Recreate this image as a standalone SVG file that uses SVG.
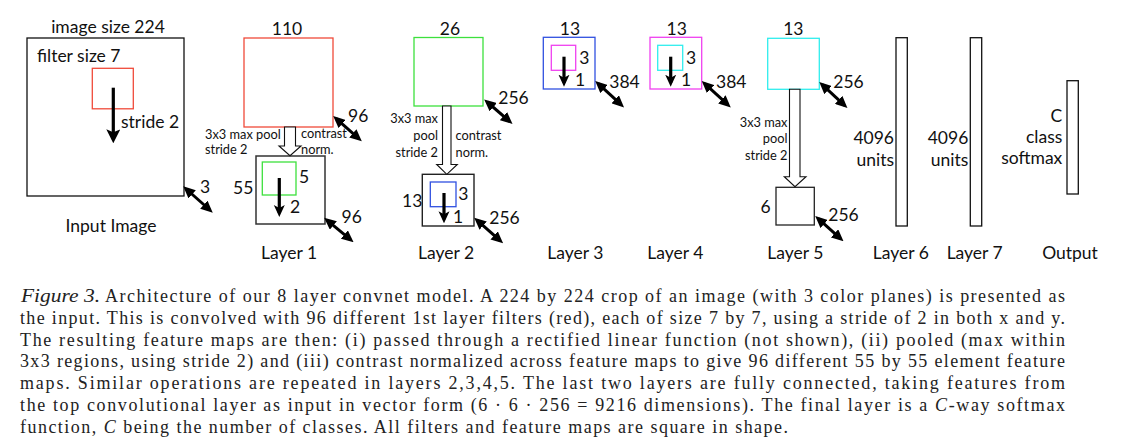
<svg xmlns="http://www.w3.org/2000/svg" width="1121" height="448" viewBox="0 0 1121 448">
<defs>
<marker id="dh" markerUnits="userSpaceOnUse" markerWidth="12" markerHeight="11" refX="8" refY="5.5" orient="auto-start-reverse" viewBox="0 0 12 11">
<path d="M0,0 L12,5.5 L0,11 z" fill="#000"/>
</marker>
<marker id="bh" markerUnits="userSpaceOnUse" markerWidth="14" markerHeight="14" refX="10" refY="7" orient="auto" viewBox="0 0 14 14">
<path d="M0,0 L14,7 L0,14 L3,7 z" fill="#000"/>
</marker>
<marker id="sh" markerUnits="userSpaceOnUse" markerWidth="12" markerHeight="12" refX="8" refY="6" orient="auto" viewBox="0 0 12 12">
<path d="M0,0.5 L12,6 L0,11.5 L3,6 z" fill="#000"/>
</marker>
</defs>
<style>
text{font-family:Lato,"Liberation Sans",sans-serif;fill:#111}
.l{font-size:17.5px}
.s{font-size:12.8px}
.m{text-anchor:middle}
.e{text-anchor:end}
.cap{font-family:"Liberation Serif","DejaVu Serif",serif;font-size:18px;fill:#222}
.it{font-style:italic}
.box{fill:#fff;stroke:#111;stroke-width:1.3}
.map{fill:none;stroke-width:1.3}
.dbl{stroke:#000;stroke-width:3;marker-start:url(#dh);marker-end:url(#dh)}
.dn{stroke:#000;stroke-width:3.2}
.hol{fill:#fff;stroke:#111;stroke-width:1.1}
</style>
<rect width="1121" height="448" fill="#fff"/>

<g id="input">
<rect class="box" x="27" y="38" width="157" height="158"/>
<text class="l m" x="108" y="33">image size 224</text>
<text class="l" x="37" y="62">filter size 7</text>
<rect class="map" x="92.3" y="68.3" width="41" height="40.5" stroke="#f04a3a"/>
<text class="l" x="121" y="127.5">stride 2</text>
<text class="l" x="200" y="192.5">3</text>
<text class="l m" x="111" y="232">Input Image</text>
</g>

<g id="layer1">
<rect class="map" x="244" y="38" width="89" height="89" stroke="#f04a3a"/>
<text class="l m" x="287" y="35">110</text>
<text class="s" x="205" y="138.5">3x3 max pool</text>
<text class="s" x="205" y="154">stride 2</text>
<text class="s" x="301" y="137.5">contrast</text>
<text class="s" x="301" y="153.5">norm.</text>
<rect x="256" y="156" width="69" height="68" fill="#fff" stroke="#333" stroke-width="1.5"/>
<rect class="map" x="262.3" y="162" width="33.7" height="33" stroke="#3de03d"/>
<text class="l" x="233" y="194">55</text>
<text class="l" x="299" y="183">5</text>
<text class="l" x="290" y="212.5">2</text>
<text class="l" x="348" y="121.5">96</text>
<text class="l" x="341.5" y="223">96</text>
<text class="l m" x="289" y="258.5">Layer 1</text>
</g>

<g id="layer2">
<rect class="map" x="414" y="37.5" width="69" height="68.5" stroke="#3de03d"/>
<text class="l m" x="450" y="35">26</text>
<text class="s e" x="438" y="123">3x3 max</text>
<text class="s e" x="438" y="140">pool</text>
<text class="s e" x="438" y="156.5">stride 2</text>
<text class="s" x="455.5" y="140">contrast</text>
<text class="s" x="455.5" y="156.5">norm.</text>
<rect x="422.3" y="174.3" width="51.7" height="51.7" fill="#fff" stroke="#222" stroke-width="1.4"/>
<rect class="map" x="430.3" y="182" width="25.7" height="24.7" stroke="#3050e0"/>
<text class="l" x="402" y="206.5">13</text>
<text class="l" x="458.3" y="200">3</text>
<text class="l" x="453" y="222.5">1</text>
<text class="l" x="498.3" y="104">256</text>
<text class="l" x="489.3" y="224">256</text>
<text class="l m" x="446" y="258.5">Layer 2</text>
</g>

<g id="layer3">
<rect class="map" x="543.3" y="37.3" width="51.7" height="51.7" stroke="#3050e0"/>
<rect class="map" x="551.3" y="45.3" width="24.4" height="25" stroke="#f040f0"/>
<text class="l m" x="570" y="35">13</text>
<text class="l" x="579.3" y="64">3</text>
<text class="l" x="575" y="86">1</text>
<text class="l" x="609.3" y="88">384</text>
<text class="l m" x="575.3" y="258.5">Layer 3</text>
</g>

<g id="layer4">
<rect class="map" x="650" y="37.3" width="51.7" height="51.7" stroke="#f040f0"/>
<rect class="map" x="657.7" y="45.3" width="25" height="25" stroke="#30eeee"/>
<text class="l m" x="676.7" y="35">13</text>
<text class="l" x="686" y="64">3</text>
<text class="l" x="681" y="86">1</text>
<text class="l" x="716" y="88">384</text>
<text class="l m" x="675.3" y="258.5">Layer 4</text>
</g>

<g id="layer5">
<rect class="map" x="767.7" y="38.3" width="51.6" height="51" stroke="#30eeee"/>
<text class="l m" x="793.3" y="35">13</text>
<text class="s e" x="787.5" y="127">3x3 max</text>
<text class="s e" x="787.5" y="143">pool</text>
<text class="s e" x="787.5" y="159.5">stride 2</text>
<rect x="776" y="187.3" width="38.3" height="37.7" fill="#fff" stroke="#222" stroke-width="1.3"/>
<text class="l" x="760.5" y="212.5">6</text>
<text class="l" x="833.3" y="88">256</text>
<text class="l" x="828.3" y="221">256</text>
<text class="l m" x="795.3" y="258.5">Layer 5</text>
</g>

<g id="layer6">
<rect class="box" x="896" y="37.7" width="11.3" height="188.3"/>
<text class="l e" x="894" y="144">4096</text>
<text class="l e" x="894" y="165.5">units</text>
<text class="l m" x="900.8" y="258.5">Layer 6</text>
</g>

<g id="layer7">
<rect class="box" x="970.3" y="37.7" width="11.4" height="188.3"/>
<text class="l e" x="968.3" y="144">4096</text>
<text class="l e" x="968.3" y="165.5">units</text>
<text class="l m" x="974.7" y="258.5">Layer 7</text>
</g>

<g id="output">
<rect class="box" x="1067" y="80.7" width="11.3" height="113.3"/>
<text class="l e" x="1062.3" y="121.5">C</text>
<text class="l e" x="1062.3" y="142.5">class</text>
<text class="l e" x="1062.3" y="164">softmax</text>
<text class="l m" x="1070" y="259">Output</text>
</g>

<g id="connectors">
<line class="dn" x1="113.3" y1="87.7" x2="113.3" y2="139.3" marker-end="url(#bh)"/>
<line class="dn" x1="279.3" y1="178" x2="279.3" y2="213" marker-end="url(#sh)"/>
<line class="dn" x1="444" y1="193" x2="444" y2="219.3" marker-end="url(#sh)"/>
<line class="dn" x1="564" y1="56.7" x2="564" y2="82.7" marker-end="url(#sh)"/>
<line class="dn" x1="670.7" y1="56.7" x2="670.7" y2="82.7" marker-end="url(#sh)"/>
<polygon class="hol" points="284.5,127 295.5,127 295.5,146 301,146 290,155.7 279,146 284.5,146"/>
<polygon class="hol" points="442.5,106 451,106 451,164.5 457.3,164.5 446.8,174.3 436.7,164.5 442.5,164.5"/>
<polygon class="hol" points="789.5,89.3 800,89.3 800,176.7 806,176.7 795,186.7 784.3,176.7 789.5,176.7"/>
<line class="dbl" x1="186.2" y1="189" x2="209.8" y2="210"/>
<line class="dbl" x1="336.2" y1="118.7" x2="358.8" y2="138.7"/>
<line class="dbl" x1="327.2" y1="220.3" x2="350.5" y2="239.7"/>
<line class="dbl" x1="487.2" y1="102" x2="509.5" y2="121.3"/>
<line class="dbl" x1="477.2" y1="220.3" x2="500.1" y2="240.7"/>
<line class="dbl" x1="598.2" y1="83.7" x2="621.1" y2="104.7"/>
<line class="dbl" x1="704.7" y1="83.7" x2="727.8" y2="104.7"/>
<line class="dbl" x1="822.2" y1="84.7" x2="844.5" y2="105.3"/>
<line class="dbl" x1="818.2" y1="218.7" x2="840.5" y2="238.7"/>
</g>

<g id="caption">
<text class="cap it" x="21" y="302" textLength="79" lengthAdjust="spacingAndGlyphs">Figure 3.</text>
<text class="cap" x="105" y="302" textLength="960" lengthAdjust="spacing">Architecture of our 8 layer convnet model. A 224 by 224 crop of an image (with 3 color planes) is presented as</text>
<text class="cap" x="20" y="323.8" textLength="1045" lengthAdjust="spacing">the input. This is convolved with 96 different 1st layer filters (red), each of size 7 by 7, using a stride of 2 in both x and y.</text>
<text class="cap" x="20" y="345.6" textLength="1045" lengthAdjust="spacing">The resulting feature maps are then: (i) passed through a rectified linear function (not shown), (ii) pooled (max within</text>
<text class="cap" x="20" y="367.4" textLength="1045" lengthAdjust="spacing">3x3 regions, using stride 2) and (iii) contrast normalized across feature maps to give 96 different 55 by 55 element feature</text>
<text class="cap" x="20" y="389.2" textLength="1045" lengthAdjust="spacing">maps. Similar operations are repeated in layers 2,3,4,5. The last two layers are fully connected, taking features from</text>
<text class="cap" x="20" y="411" textLength="1045" lengthAdjust="spacing">the top convolutional layer as input in vector form (6 · 6 · 256 = 9216 dimensions). The final layer is a <tspan class="it">C</tspan>-way softmax</text>
<text class="cap" x="20" y="432.8" textLength="768" lengthAdjust="spacing">function, <tspan class="it">C</tspan> being the number of classes. All filters and feature maps are square in shape.</text>
</g>
</svg>
